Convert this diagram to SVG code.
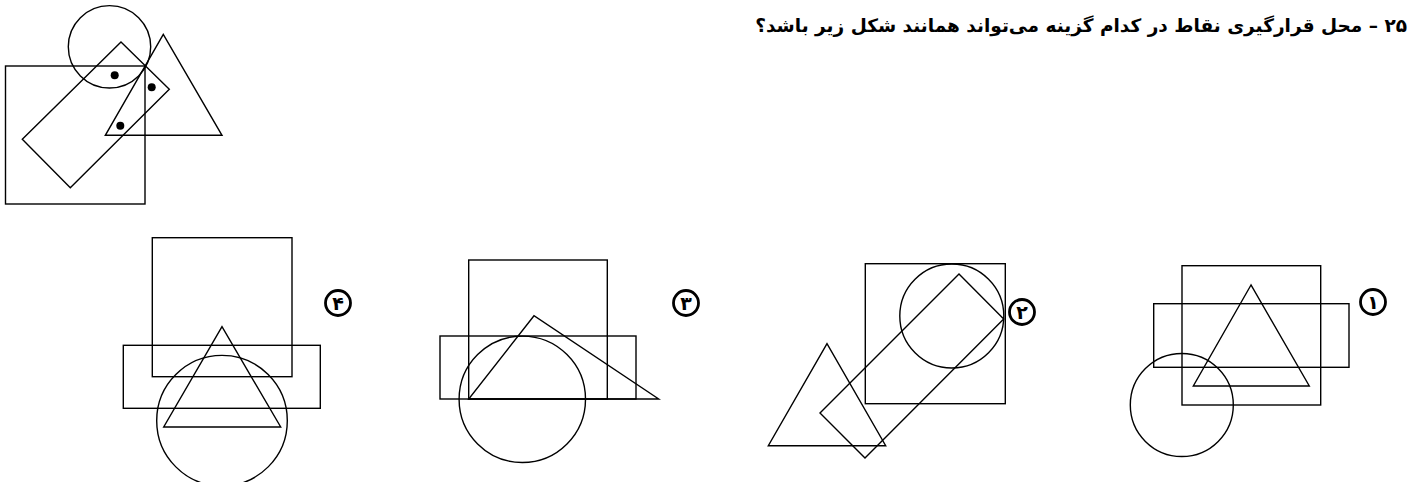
<svg xmlns="http://www.w3.org/2000/svg" width="1420" height="482" viewBox="0 0 1420 482">
<style>
.s{fill:none;stroke:#000;stroke-width:1.4}
.dot{fill:#000}
.lc{fill:#fff;stroke:#000;stroke-width:2.8}
.ln{font-family:"DejaVu Sans",sans-serif;font-weight:bold;font-size:19px;fill:#000}
.t{font-family:"DejaVu Sans","Noto Sans",sans-serif;font-weight:bold;font-size:18.5px;fill:#000}
</style>
<rect width="1420" height="482" fill="#fff"/>
<g id="title">
<text class="t" x="1407" y="32" direction="rtl" text-anchor="start">۲۵ – محل قرارگیری نقاط در کدام گزینه می‌تواند همانند شکل زیر باشد؟</text>
</g>
<g id="question">
<rect class="s" x="5.5" y="66" width="139.5" height="138"/>
<circle class="s" cx="109.5" cy="46.8" r="41.2"/>
<polygon class="s" points="121,42 169.3,89.3 70.3,187.7 22.3,139.3"/>
<polygon class="s" points="163.3,34.3 105.3,135.3 222,135.3"/>
<circle class="dot" cx="114.7" cy="75.3" r="4"/>
<circle class="dot" cx="151.7" cy="87.3" r="4"/>
<circle class="dot" cx="120.3" cy="125.7" r="4"/>
</g>
<g id="option4">
<rect class="s" x="152.3" y="237.7" width="139.7" height="139"/>
<rect class="s" x="123.3" y="345.3" width="197" height="63"/>
<polygon class="s" points="222,326.7 163.7,427 280.7,427"/>
<circle class="s" cx="222" cy="420.7" r="65.3"/>
<circle class="lc" cx="338" cy="303" r="12.5"/>
<text class="ln" x="338" y="309.5" text-anchor="middle">۴</text>
</g>
<g id="option3">
<rect class="s" x="468.7" y="260" width="138.6" height="139"/>
<rect class="s" x="440" y="336" width="196" height="63"/>
<polygon class="s" points="534,315.7 468.7,399 658.7,399"/>
<circle class="s" cx="522.3" cy="399.3" r="63.2"/>
<circle class="lc" cx="686" cy="303" r="12.5"/>
<text class="ln" x="686" y="309.5" text-anchor="middle">۳</text>
</g>
<g id="option2">
<rect class="s" x="865.3" y="263.7" width="140" height="140"/>
<circle class="s" cx="951.8" cy="316" r="52"/>
<polygon class="s" points="959,274 1003.7,319 865,458 820,413"/>
<polygon class="s" points="827,343.7 768.3,445.7 885.7,445.7"/>
<circle class="lc" cx="1022" cy="312" r="12.5"/>
<text class="ln" x="1022" y="318.5" text-anchor="middle">۲</text>
</g>
<g id="option1">
<rect class="s" x="1182" y="265.7" width="138.7" height="139.3"/>
<rect class="s" x="1153.7" y="303.7" width="195.3" height="63.6"/>
<polygon class="s" points="1251,285 1193.3,386 1309.3,386"/>
<circle class="s" cx="1181.8" cy="405" r="51.5"/>
<circle class="lc" cx="1373" cy="302" r="12.5"/>
<text class="ln" x="1373" y="308.5" text-anchor="middle">۱</text>
</g>
<g id="connectors"/>
</svg>
